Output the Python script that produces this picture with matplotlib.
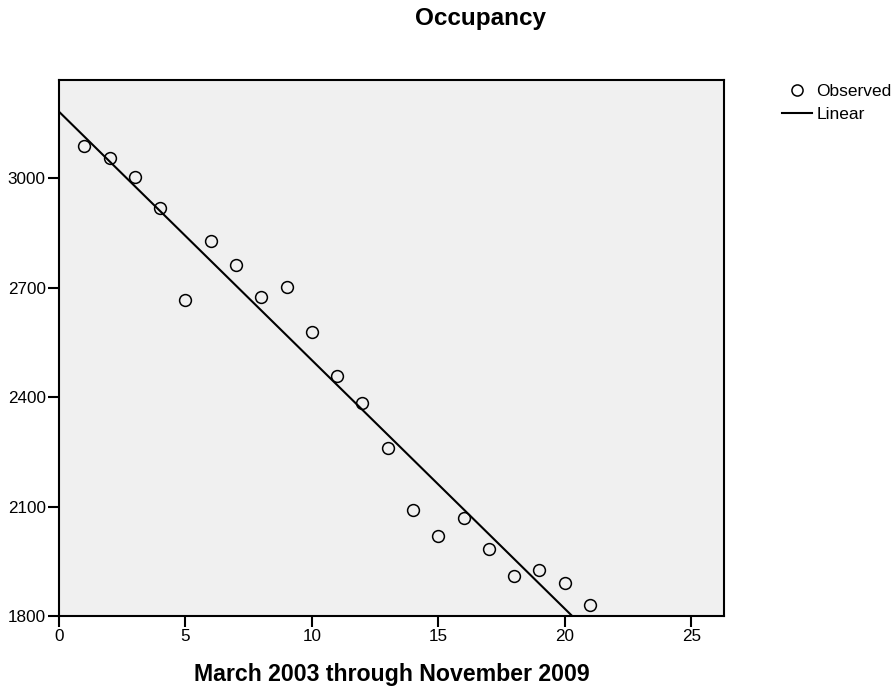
import numpy as np
import matplotlib
matplotlib.use("Agg")
import matplotlib.pyplot as plt
from matplotlib.lines import Line2D

plt.rcParams['font.family'] = ['Liberation Sans', 'DejaVu Sans']

# Data
period = list(range(1, 22))
occupancy = [3089, 3055, 3005, 2920, 2666, 2828, 2762, 2676, 2702, 2578,
             2459, 2385, 2260, 2090, 2020, 2069, 1984, 1909, 1927, 1890, 1829]
x_ticks = [0, 5, 10, 15, 20, 25]
y_ticks = [1800, 2100, 2400, 2700, 3000]
title = "Occupancy"
x_label = "March 2003 through November 2009"
legend_labels = ["Observed", "Linear"]

W, H = 893, 688
fig = plt.figure(figsize=(W / 100, H / 100), dpi=100)
ax = fig.add_axes([59 / W, 1 - 616 / H, (724 - 59) / W, (616 - 80) / H])
ax.set_facecolor('#F0F0F0')

x = np.array(period, dtype=float)
y = np.array(occupancy, dtype=float)
slope, intercept = np.polyfit(x, y, 1)

xlim = (0, 26.3)
ylim = (1800, 3270)
xl = np.array(xlim)
ax.plot(xl, intercept + slope * xl, color='black', lw=1.5, zorder=2)
ax.plot(x, y, 'o', mfc='none', mec='black', ms=8.5, mew=1.1, zorder=3)

ax.set_xlim(*xlim)
ax.set_ylim(*ylim)
ax.set_xticks(x_ticks)
ax.set_yticks(y_ticks)
ax.tick_params(axis='both', direction='out', length=8, width=1.5, labelsize=12.3, pad=1.5, color='black')
for s in ax.spines.values():
    s.set_linewidth(1.5)
    s.set_color('black')

fig.text(480 / W, 1 - 18 / H, title, ha='center', va='center', fontsize=17.5, fontweight='bold')
fig.text(392 / W, 1 - 674 / H, x_label, ha='center', va='center', fontsize=16.7, fontweight='bold')

handles = [Line2D([], [], ls='none', marker='o', mfc='none', mec='black', ms=8, mew=1.1),
           Line2D([], [], color='black', lw=1.5)]
fig.legend(handles, legend_labels, loc='upper left', bbox_to_anchor=(782 / W, 1 - 83.5 / H),
           frameon=False, borderpad=0, borderaxespad=0, handlelength=1.7, handletextpad=0.28,
           labelspacing=0.48, fontsize=12.5)

fig.savefig('out.png', dpi=100)
